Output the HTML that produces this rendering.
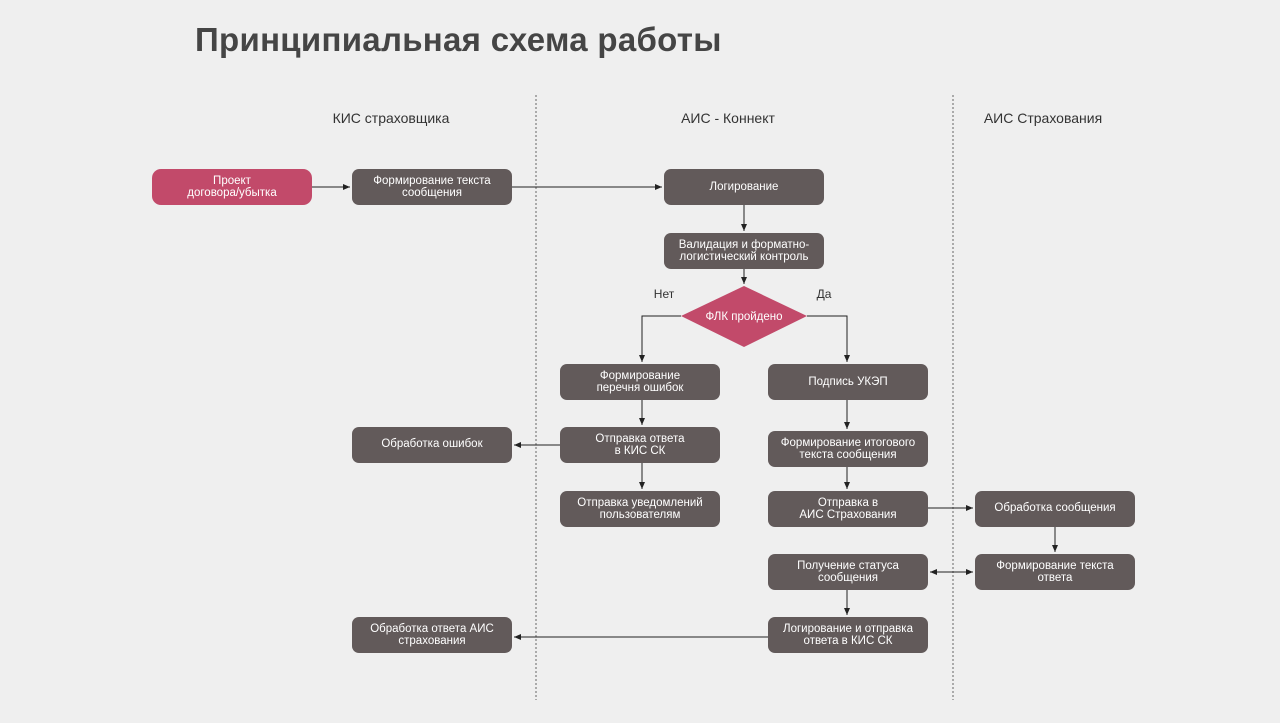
<!DOCTYPE html>
<html><head><meta charset="utf-8"><style>
html,body{margin:0;padding:0;background:#efefef;}
svg{display:block;font-family:"Liberation Sans","DejaVu Sans",sans-serif;}
.b{fill:#625a5a;}
.p{fill:#c24a6a;}
.t{fill:#fff;font-size:11.5px;text-anchor:middle;}
.l{stroke:#222;stroke-width:1;fill:none;}
.h{fill:#333;font-size:14px;text-anchor:middle;}
</style></head><body>
<svg width="1280" height="723" viewBox="0 0 1280 723">
<defs><marker id="a" markerWidth="8" markerHeight="8" refX="7" refY="4" orient="auto" markerUnits="userSpaceOnUse"><path d="M0,1 L7,4 L0,7z" fill="#222"/></marker></defs>
<rect width="1280" height="723" fill="#efefef"/>
<text x="195" y="51" font-size="33" font-weight="bold" fill="#454545" letter-spacing="0.3">Принципиальная схема работы</text>
<line x1="536" y1="95" x2="536" y2="700" stroke="#666" stroke-dasharray="2,2"/>
<line x1="953" y1="95" x2="953" y2="700" stroke="#666" stroke-dasharray="2,2"/>
<text class="h" x="391" y="123">КИС страховщика</text>
<text class="h" x="728" y="123">АИС - Коннект</text>
<text class="h" x="1043" y="123">АИС Страхования</text>

<path class="l" d="M312,187 H350" marker-end="url(#a)"/>
<path class="l" d="M512,187 H662" marker-end="url(#a)"/>
<path class="l" d="M744,205 V231" marker-end="url(#a)"/>
<path class="l" d="M744,269 V284" marker-end="url(#a)"/>
<path class="l" d="M681,316 H642 V362" marker-end="url(#a)"/>
<path class="l" d="M807,316 H847 V362" marker-end="url(#a)"/>
<path class="l" d="M642,400 V425" marker-end="url(#a)"/>
<path class="l" d="M560,445 H514" marker-end="url(#a)"/>
<path class="l" d="M642,463 V489" marker-end="url(#a)"/>
<path class="l" d="M847,400 V429" marker-end="url(#a)"/>
<path class="l" d="M847,467 V489" marker-end="url(#a)"/>
<path class="l" d="M928,508 H973" marker-end="url(#a)"/>
<path class="l" d="M1055,527 V552" marker-end="url(#a)"/>
<path class="l" d="M940,572 H973" marker-end="url(#a)"/>
<path class="l" d="M960,572 H930" marker-end="url(#a)"/>
<path class="l" d="M847,590 V615" marker-end="url(#a)"/>
<path class="l" d="M768,637 H514" marker-end="url(#a)"/>

<rect class="p" x="152" y="169" width="160" height="36" rx="9"/>
<text class="t" x="232" y="184">Проект</text><text class="t" x="232" y="196">договора/убытка</text>
<rect class="b" x="352" y="169" width="160" height="36" rx="7"/>
<text class="t" x="432" y="184">Формирование текста</text><text class="t" x="432" y="196">сообщения</text>
<rect class="b" x="664" y="169" width="160" height="36" rx="7"/>
<text class="t" x="744" y="190">Логирование</text>
<rect class="b" x="664" y="233" width="160" height="36" rx="7"/>
<text class="t" x="744" y="248">Валидация и форматно-</text><text class="t" x="744" y="260">логистический контроль</text>
<polygon class="p" points="744,286 807,316 744,347 681,316"/>
<text class="t" x="744" y="320">ФЛК пройдено</text>
<text x="664" y="298" font-size="12" fill="#333" text-anchor="middle">Нет</text>
<text x="824" y="298" font-size="12" fill="#333" text-anchor="middle">Да</text>
<rect class="b" x="560" y="364" width="160" height="36" rx="7"/>
<text class="t" x="640" y="379">Формирование</text><text class="t" x="640" y="391">перечня ошибок</text>
<rect class="b" x="768" y="364" width="160" height="36" rx="7"/>
<text class="t" x="848" y="385">Подпись УКЭП</text>
<rect class="b" x="352" y="427" width="160" height="36" rx="7"/>
<text class="t" x="432" y="447">Обработка ошибок</text>
<rect class="b" x="560" y="427" width="160" height="36" rx="7"/>
<text class="t" x="640" y="442">Отправка ответа</text><text class="t" x="640" y="454">в КИС СК</text>
<rect class="b" x="768" y="431" width="160" height="36" rx="7"/>
<text class="t" x="848" y="446">Формирование итогового</text><text class="t" x="848" y="458">текста сообщения</text>
<rect class="b" x="560" y="491" width="160" height="36" rx="7"/>
<text class="t" x="640" y="506">Отправка уведомлений</text><text class="t" x="640" y="518">пользователям</text>
<rect class="b" x="768" y="491" width="160" height="36" rx="7"/>
<text class="t" x="848" y="506">Отправка в</text><text class="t" x="848" y="518">АИС Страхования</text>
<rect class="b" x="975" y="491" width="160" height="36" rx="7"/>
<text class="t" x="1055" y="511">Обработка сообщения</text>
<rect class="b" x="768" y="554" width="160" height="36" rx="7"/>
<text class="t" x="848" y="569">Получение статуса</text><text class="t" x="848" y="581">сообщения</text>
<rect class="b" x="975" y="554" width="160" height="36" rx="7"/>
<text class="t" x="1055" y="569">Формирование текста</text><text class="t" x="1055" y="581">ответа</text>
<rect class="b" x="768" y="617" width="160" height="36" rx="7"/>
<text class="t" x="848" y="632">Логирование и отправка</text><text class="t" x="848" y="644">ответа в КИС СК</text>
<rect class="b" x="352" y="617" width="160" height="36" rx="7"/>
<text class="t" x="432" y="632">Обработка ответа АИС</text><text class="t" x="432" y="644">страхования</text>
</svg>
</body></html>
